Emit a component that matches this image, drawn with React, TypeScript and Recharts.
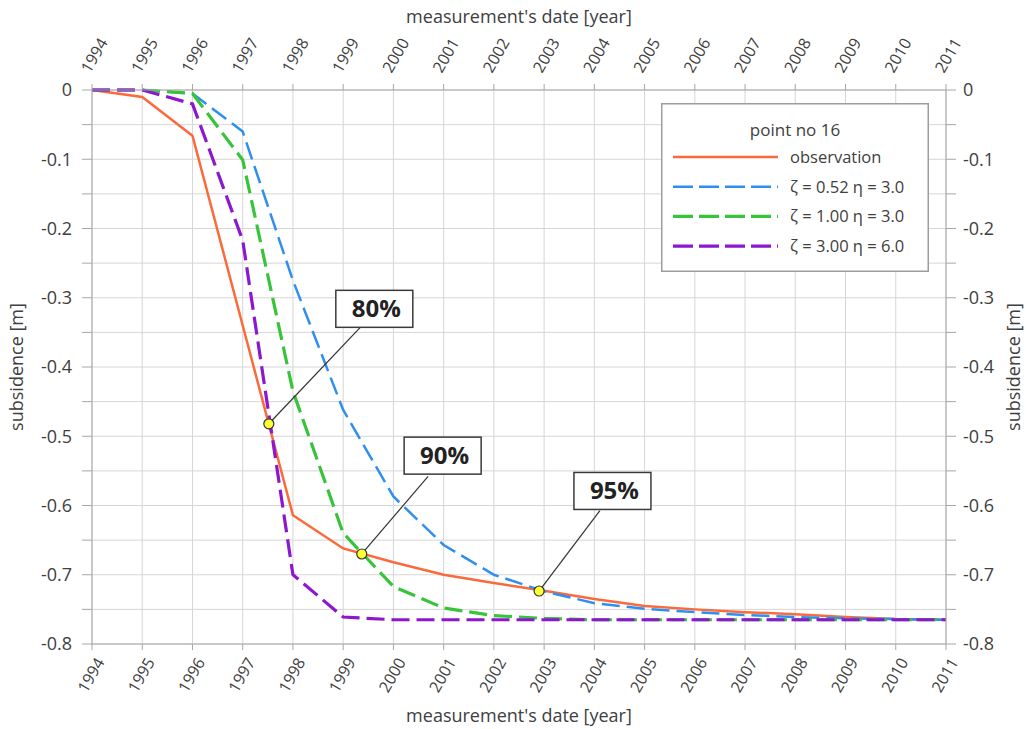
import {
  CartesianGrid,
  Legend,
  Line,
  LineChart,
  ReferenceDot,
  ReferenceLine,
  XAxis,
  YAxis,
} from 'recharts';

const years = [1994, 1995, 1996, 1997, 1998, 1999, 2000, 2001, 2002, 2003, 2004, 2005, 2006, 2007, 2008, 2009, 2010, 2011];

// subsidence [m] per year
const observation = [0, -0.01, -0.066, -0.34, -0.614, -0.662, -0.682, -0.7, -0.712, -0.723, -0.735, -0.745, -0.75, -0.754, -0.757, -0.761, -0.764, -0.765];
const zeta052 = [0, 0, -0.005, -0.06, -0.275, -0.462, -0.587, -0.657, -0.7, -0.724, -0.741, -0.749, -0.754, -0.758, -0.761, -0.763, -0.764, -0.765];
const zeta100 = [0, 0, -0.005, -0.101, -0.435, -0.64, -0.717, -0.748, -0.759, -0.763, -0.765, -0.765, -0.765, -0.765, -0.765, -0.765, -0.765, -0.765];
const zeta300 = [0, 0, -0.02, -0.217, -0.7, -0.761, -0.765, -0.765, -0.765, -0.765, -0.765, -0.765, -0.765, -0.765, -0.765, -0.765, -0.765, -0.765];

const yTicks = [0, -0.05, -0.1, -0.15, -0.2, -0.25, -0.3, -0.35, -0.4, -0.45, -0.5, -0.55, -0.6, -0.65, -0.7, -0.75, -0.8];

// consolidation markers on the observed curve
const markerLabels = ['80%', '90%', '95%'];
const markerYears = [1997.52, 1999.37, 2002.9];
const markerValues = [-0.482, -0.67, -0.7235];
const leaderYears = [1999.35, 2000.69, 2004.11];
const leaderValues = [-0.342, -0.558, -0.6075];
const boxYears = [1999.62, 2000.98, 2004.36];
const boxValues = [-0.316, -0.528, -0.579];

const data = years.map((year, i) => ({
  year,
  observation: observation[i],
  z052: zeta052[i],
  z100: zeta100[i],
  z300: zeta300[i],
}));

const FONT = '"Open Sans", sans-serif';
const TEXT = '#404040';
const AXIS = '#a6a6a6';

const series = [
  { key: 'observation', name: 'observation', color: '#fb6a3b', width: 2.5, dash: undefined as string | undefined },
  { key: 'z052', name: 'ζ = 0.52 η = 3.0', color: '#2f8ff0', width: 2.5, dash: '18 7' },
  { key: 'z100', name: 'ζ = 1.00 η = 3.0', color: '#38c43a', width: 3.2, dash: '18 7' },
  { key: 'z300', name: 'ζ = 3.00 η = 6.0', color: '#8c17cf', width: 3.2, dash: '18 7' },
];

function BottomTick({ x, y, payload }: any) {
  const ax = x + 13;
  const ay = y + 10;
  return (
    <text x={ax} y={ay} textAnchor="end" fontSize={16} fontFamily={FONT} fill={TEXT} transform={`rotate(-60, ${ax}, ${ay})`}>
      {payload.value}
    </text>
  );
}

function TopTick({ x, y, payload }: any) {
  const ax = x - 2;
  const ay = y - 8;
  return (
    <text x={ax} y={ay} textAnchor="start" fontSize={16} fontFamily={FONT} fill={TEXT} transform={`rotate(-60, ${ax}, ${ay})`}>
      {payload.value}
    </text>
  );
}

const yFormat = (v: number) => (Math.round(Math.abs(v) * 100) % 10 === 0 ? String(v) : '');

function LegendBox() {
  return (
    <svg width={268} height={169} style={{ display: 'block' }}>
      <rect x={0.75} y={0.75} width={266.5} height={167.5} fill="#fff" stroke="#9d9d9d" strokeWidth={1.5} />
      <text x={134} y={33} textAnchor="middle" fontSize={17} fontFamily={FONT} fill={TEXT}>
        point no 16
      </text>
      {series.map((s, i) => {
        const cy = 54 + i * 29.7;
        return (
          <g key={s.key}>
            <line x1={12} x2={117} y1={cy} y2={cy} stroke={s.color} strokeWidth={s.width} strokeDasharray={s.dash ? '20 6' : undefined} />
            <text x={129} y={cy + 6} fontSize={16.5} fontFamily={FONT} fill={TEXT}>
              {s.name}
            </text>
          </g>
        );
      })}
    </svg>
  );
}

function boxShape(label: string) {
  return (props: any) => {
    const { cx, cy } = props;
    return (
      <g>
        <rect x={cx - 38.5} y={cy - 18.5} width={77} height={37} fill="#fff" stroke="#3a3a3a" strokeWidth={1.5} />
        <text x={cx + 2} y={cy + 8.5} textAnchor="middle" fontSize={24} fontWeight={700} fontFamily={FONT} fill="#222">
          {label}
        </text>
      </g>
    );
  };
}

export default function App() {
  const titleStyle = { fill: TEXT, fontSize: 18, fontFamily: FONT };
  return (
    <div style={{ position: 'absolute', left: 0, top: 0, background: '#fff' }}>
      <LineChart width={1026} height={729} data={data} margin={{ top: 10, right: 0, bottom: 5, left: 12 }}>
        <CartesianGrid stroke="#d6d6d6" strokeWidth={1} />
        <XAxis
          dataKey="year"
          type="number"
          domain={[1994, 2011]}
          ticks={years}
          height={80}
          stroke={AXIS}
          tickSize={6}
          tickMargin={2}
          tick={BottomTick}
          interval={0}
          label={{ value: "measurement's date [year]", position: 'insideBottom', offset: 2, style: titleStyle }}
        />
        <XAxis
          xAxisId="top"
          dataKey="year"
          type="number"
          orientation="top"
          domain={[1994, 2011]}
          ticks={years}
          height={80}
          stroke={AXIS}
          tickSize={6}
          tickMargin={2}
          tick={TopTick}
          interval={0}
          label={{ value: "measurement's date [year]", position: 'insideTop', offset: 0, style: titleStyle }}
        />
        <YAxis
          type="number"
          domain={[-0.8, 0]}
          ticks={yTicks}
          width={80}
          stroke={AXIS}
          tickSize={10}
          tickMargin={10}
          interval={0}
          tickFormatter={yFormat}
          tick={{ fill: TEXT, fontSize: 18, fontFamily: FONT }}
          label={{ value: 'subsidence [m]', angle: -90, position: 'insideLeft', offset: 5, style: { ...titleStyle, textAnchor: 'middle' } }}
        />
        <YAxis
          yAxisId="right"
          dataKey="observation"
          orientation="right"
          type="number"
          domain={[-0.8, 0]}
          ticks={yTicks}
          width={80}
          stroke={AXIS}
          tickSize={10}
          tickMargin={7}
          interval={0}
          tickFormatter={yFormat}
          tick={{ fill: TEXT, fontSize: 18, fontFamily: FONT }}
          label={{ value: 'subsidence [m]', angle: -90, position: 'insideRight', offset: 12, style: { ...titleStyle, textAnchor: 'middle' } }}
        />
        <Legend
          layout="horizontal"
          verticalAlign="middle"
          align="center"
          content={LegendBox}
          wrapperStyle={{ left: 661, top: 103, width: 268, height: 169 }}
        />
        {series.map((s) => (
          <Line
            key={s.key}
            dataKey={s.key}
            name={s.name}
            type="linear"
            stroke={s.color}
            strokeWidth={s.width}
            strokeDasharray={s.dash}
            dot={false}
            activeDot={false}
            isAnimationActive={false}
          />
        ))}
        {markerLabels.map((label, i) => (
          <ReferenceLine
            key={`leader-${label}`}
            segment={[
              { x: markerYears[i], y: markerValues[i] },
              { x: leaderYears[i], y: leaderValues[i] },
            ]}
            stroke="#333"
            strokeWidth={1.2}
          />
        ))}
        {markerLabels.map((label, i) => (
          <ReferenceDot key={`box-${label}`} x={boxYears[i]} y={boxValues[i]} r={0} shape={boxShape(label)} />
        ))}
        {markerLabels.map((label, i) => (
          <ReferenceDot key={`dot-${label}`} x={markerYears[i]} y={markerValues[i]} r={5} fill="#ffff33" stroke="#333" strokeWidth={1.2} />
        ))}
      </LineChart>
    </div>
  );
}
